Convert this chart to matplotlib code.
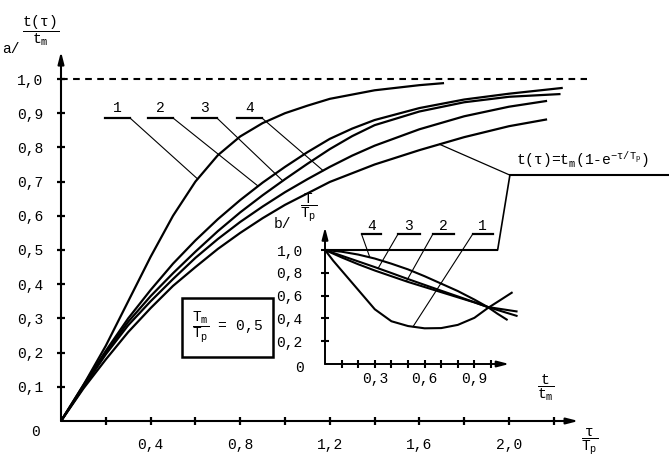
import numpy as np
import matplotlib
matplotlib.use("Agg")
import matplotlib.pyplot as plt
from matplotlib.patches import Rectangle, ConnectionPatch

plt.rcParams['font.family'] = ['Liberation Mono', 'DejaVu Sans']
plt.rcParams['mathtext.fontset'] = 'custom'
plt.rcParams['mathtext.rm'] = 'Liberation Mono'
plt.rcParams['mathtext.it'] = 'Liberation Mono'
plt.rcParams['mathtext.bf'] = 'Liberation Mono:bold'

W, H = 669, 465

# main plot: t(tau)/t_m against tau/T_p
c1_x = [0, 0.1, 0.2, 0.3, 0.4, 0.5, 0.6, 0.7, 0.8, 0.9, 1.0, 1.1, 1.2, 1.4, 1.6, 1.71]
c1_y = [0, 0.105, 0.22, 0.35, 0.48, 0.60, 0.70, 0.777, 0.832, 0.871, 0.90, 0.922, 0.942, 0.967, 0.982, 0.988]

c2_x = [0, 0.1, 0.2, 0.3, 0.4, 0.5, 0.6, 0.7, 0.8, 0.9, 1.0, 1.1, 1.2, 1.3, 1.4, 1.6, 1.8, 2.0, 2.24]
c2_y = [0, 0.105, 0.205, 0.30, 0.383, 0.46, 0.528, 0.59, 0.646, 0.697, 0.743, 0.786, 0.825, 0.855, 0.88, 0.915, 0.94, 0.957, 0.974]

c3_x = [0, 0.1, 0.2, 0.3, 0.4, 0.5, 0.6, 0.7, 0.8, 0.9, 1.0, 1.1, 1.2, 1.3, 1.4, 1.6, 1.8, 2.0, 2.23]
c3_y = [0, 0.1, 0.20, 0.29, 0.365, 0.432, 0.495, 0.555, 0.61, 0.66, 0.707, 0.752, 0.795, 0.833, 0.865, 0.905, 0.932, 0.948, 0.956]

c4_x = [0, 0.1, 0.2, 0.3, 0.4, 0.5, 0.6, 0.7, 0.8, 0.9, 1.0, 1.1, 1.2, 1.3, 1.4, 1.6, 1.8, 2.0, 2.17]
c4_y = [0, 0.098, 0.195, 0.28, 0.35, 0.415, 0.477, 0.532, 0.582, 0.627, 0.669, 0.707, 0.743, 0.776, 0.805, 0.853, 0.891, 0.919, 0.936]

ce_x = [0, 0.1, 0.2, 0.3, 0.4, 0.5, 0.6, 0.7, 0.8, 0.9, 1.0, 1.2, 1.4, 1.6, 1.8, 2.0, 2.17]
ce_y = [0, 0.095, 0.18, 0.26, 0.33, 0.395, 0.45, 0.503, 0.55, 0.593, 0.632, 0.699, 0.75, 0.792, 0.83, 0.862, 0.882]

main_xticks = [0.2, 0.4, 0.6, 0.8, 1.0, 1.2, 1.4, 1.6, 1.8, 2.0, 2.2]
main_xlabels = ["", "0,4", "", "0,8", "", "1,2", "", "1,6", "", "2,0", ""]
main_yticks = [0.1, 0.2, 0.3, 0.4, 0.5, 0.6, 0.7, 0.8, 0.9, 1.0]
main_ylabels = ["0,1", "0,2", "0,3", "0,4", "0,5", "0,6", "0,7", "0,8", "0,9", "1,0"]

# inset: T/T_p against t/t_m
i1_x = [0, 0.05, 0.1, 0.2, 0.3, 0.4, 0.5, 0.6, 0.7, 0.8, 0.9, 0.98, 1.05, 1.13]
i1_y = [1.0, 0.905, 0.82, 0.65, 0.48, 0.375, 0.333, 0.313, 0.315, 0.343, 0.405, 0.49, 0.555, 0.63]

i2_x = [0, 0.1, 0.2, 0.3, 0.4, 0.5, 0.6, 0.7, 0.8, 0.9, 0.98, 1.16]
i2_y = [1.0, 0.935, 0.875, 0.82, 0.77, 0.72, 0.675, 0.63, 0.585, 0.54, 0.50, 0.46]

i3_x = [0, 0.1, 0.2, 0.3, 0.4, 0.5, 0.6, 0.7, 0.8, 0.9, 0.98, 1.16]
i3_y = [1.0, 0.95, 0.90, 0.85, 0.798, 0.745, 0.694, 0.643, 0.593, 0.542, 0.50, 0.42]

i4_x = [0, 0.1, 0.2, 0.3, 0.4, 0.5, 0.6, 0.7, 0.8, 0.9, 0.98, 1.04, 1.10]
i4_y = [1.0, 0.985, 0.96, 0.925, 0.88, 0.83, 0.77, 0.705, 0.64, 0.565, 0.50, 0.44, 0.385]

ie_x = [0, 1.04]
ie_y = [1.0, 1.0]

ins_xticks = [0.1, 0.2, 0.3, 0.4, 0.5, 0.6, 0.7, 0.8, 0.9, 1.0]
ins_xlabels = ["", "", "0,3", "", "", "0,6", "", "", "0,9", ""]
ins_yticks = [0.2, 0.4, 0.6, 0.8, 1.0]
ins_ylabels = ["0,2", "0,4", "0,6", "0,8", "1,0"]


def px(x, y):
    return x / W, 1 - y / H


def arrows(ax, xend, yend, lw):
    st = '-|>,head_length=0.7,head_width=0.18'
    ax.annotate('', xy=(xend, 0), xytext=(0, 0), annotation_clip=False,
                arrowprops=dict(arrowstyle=st, lw=lw, color='k', shrinkA=0, shrinkB=0))
    ax.annotate('', xy=(0, yend), xytext=(0, 0), annotation_clip=False,
                arrowprops=dict(arrowstyle=st, lw=lw, color='k', shrinkA=0, shrinkB=0))


def tag(ax, text, x0, x1, y, tx, ty, start, fs=10.5):
    ax.plot([x0, x1], [y, y], color='k', lw=1.6, clip_on=False)
    ax.text((x0 + x1) / 2, y + 0.01, text, ha='center', va='bottom', fontsize=fs)
    ax.plot([start, tx], [y, ty], color='k', lw=0.8, clip_on=False)


fig = plt.figure(figsize=(W / 100, H / 100), dpi=100)
fig.patch.set_facecolor('white')

ax = fig.add_axes([61 / W, (H - 421) / H, 2.6 * 224 / W, 1.15 * 342 / H])
ax.set_xlim(0, 2.6)
ax.set_ylim(0, 1.15)
ax.patch.set_alpha(0)
for s in ax.spines.values():
    s.set_visible(False)

for xs, ys in [(c1_x, c1_y), (c2_x, c2_y), (c3_x, c3_y), (c4_x, c4_y), (ce_x, ce_y)]:
    ax.plot(xs, ys, color='k', lw=1.6, solid_capstyle='butt', solid_joinstyle='round')
ax.plot([0, 2.35], [1.0, 1.0], color='k', lw=1.5, dashes=(3.2, 2.6))

arrows(ax, 2.31, 1.08, 1.5)
ax.set_xticks(main_xticks, main_xlabels, fontsize=10.5)
ax.set_yticks(main_yticks, main_ylabels, fontsize=10.5)
ax.tick_params(axis='both', direction='inout', length=6, width=1.6)
ax.tick_params(axis='y', pad=10)
ax.tick_params(axis='x', pad=9)
fig.text(*px(36, 432), "0", ha='center', va='center', fontsize=10.5)

# curve numbers with leader lines
tag(ax, "1", 0.197, 0.308, 0.886, 0.61, np.interp(0.61, c1_x, c1_y), 0.308)
tag(ax, "2", 0.388, 0.50, 0.886, 0.88, np.interp(0.88, c2_x, c2_y), 0.50)
tag(ax, "3", 0.585, 0.696, 0.886, 0.99, np.interp(0.99, c3_x, c3_y), 0.696)
tag(ax, "4", 0.786, 0.897, 0.886, 1.17, np.interp(1.17, c4_x, c4_y), 0.897)

# ratio box
ax.add_patch(Rectangle((0.54, 0.187), 0.406, 0.173, fill=False, lw=1.8, color='k'))
ax.text(0.743, 0.274, r"$\dfrac{T_m}{T_p}$ = 0,5", ha='center', va='center', fontsize=10.5)

# formula label and its lines
ax.plot([1.69, 2.004], [np.interp(1.69, ce_x, ce_y), 0.719], color='k', lw=0.9, clip_on=False)
ax.plot([2.004, 2.72], [0.719, 0.719], color='k', lw=1.5, clip_on=False)
ax.text(2.03, 0.735, r"t($\tau$)=t$_m$(1-e$^{-\tau/T_p}$)", ha='left', va='bottom',
        fontsize=10.5, clip_on=False)

fig.text(*px(41, 31), r"$\dfrac{t(\tau)}{t_m}$", ha='center', va='center', fontsize=10.5)
fig.text(*px(11, 49), "a/", ha='center', va='center', fontsize=10.5)
fig.text(*px(590, 442), r"$\dfrac{\tau}{T_p}$", ha='center', va='center', fontsize=10.5)

# inset
ai = fig.add_axes([325 / W, (H - 364) / H, 1.2 * 166 / W, 1.25 * 114 / H])
ai.set_xlim(0, 1.2)
ai.set_ylim(0, 1.25)
ai.patch.set_alpha(0)
for s in ai.spines.values():
    s.set_visible(False)

for xs, ys in [(i1_x, i1_y), (i2_x, i2_y), (i3_x, i3_y), (i4_x, i4_y), (ie_x, ie_y)]:
    ai.plot(xs, ys, color='k', lw=1.5, solid_capstyle='butt', solid_joinstyle='round')

arrows(ai, 1.11, 1.2, 1.4)
ai.set_xticks(ins_xticks, ins_xlabels, fontsize=10.5)
ai.set_yticks(ins_yticks, ins_ylabels, fontsize=10.5)
ai.tick_params(axis='both', direction='inout', length=6, width=1.5)
ai.tick_params(axis='y', pad=13)
ai.tick_params(axis='x', pad=3)
fig.text(*px(300, 368), "0", ha='center', va='center', fontsize=10.5)

tag(ai, "4", 0.22, 0.34, 1.14, 0.27, np.interp(0.27, i4_x, i4_y), 0.22)
tag(ai, "3", 0.44, 0.57, 1.14, 0.32, np.interp(0.32, i3_x, i3_y), 0.44)
tag(ai, "2", 0.65, 0.78, 1.14, 0.49, np.interp(0.49, i2_x, i2_y), 0.65)
tag(ai, "1", 0.89, 1.01, 1.14, 0.53, np.interp(0.53, i1_x, i1_y), 0.89)

con = ConnectionPatch(xyA=(ie_x[-1], ie_y[-1]), coordsA=ai.transData,
                      xyB=(2.004, 0.719), coordsB=ax.transData, color='k', lw=1.2)
fig.add_artist(con)

fig.text(*px(546, 388), r"$\dfrac{t}{t_m}$", ha='center', va='center', fontsize=10.5)
fig.text(*px(309, 208), r"$\dfrac{T}{T_p}$", ha='center', va='center', fontsize=10.5)
fig.text(*px(282, 224), "b/", ha='center', va='center', fontsize=10.5)

fig.savefig("out.png", dpi=100)
